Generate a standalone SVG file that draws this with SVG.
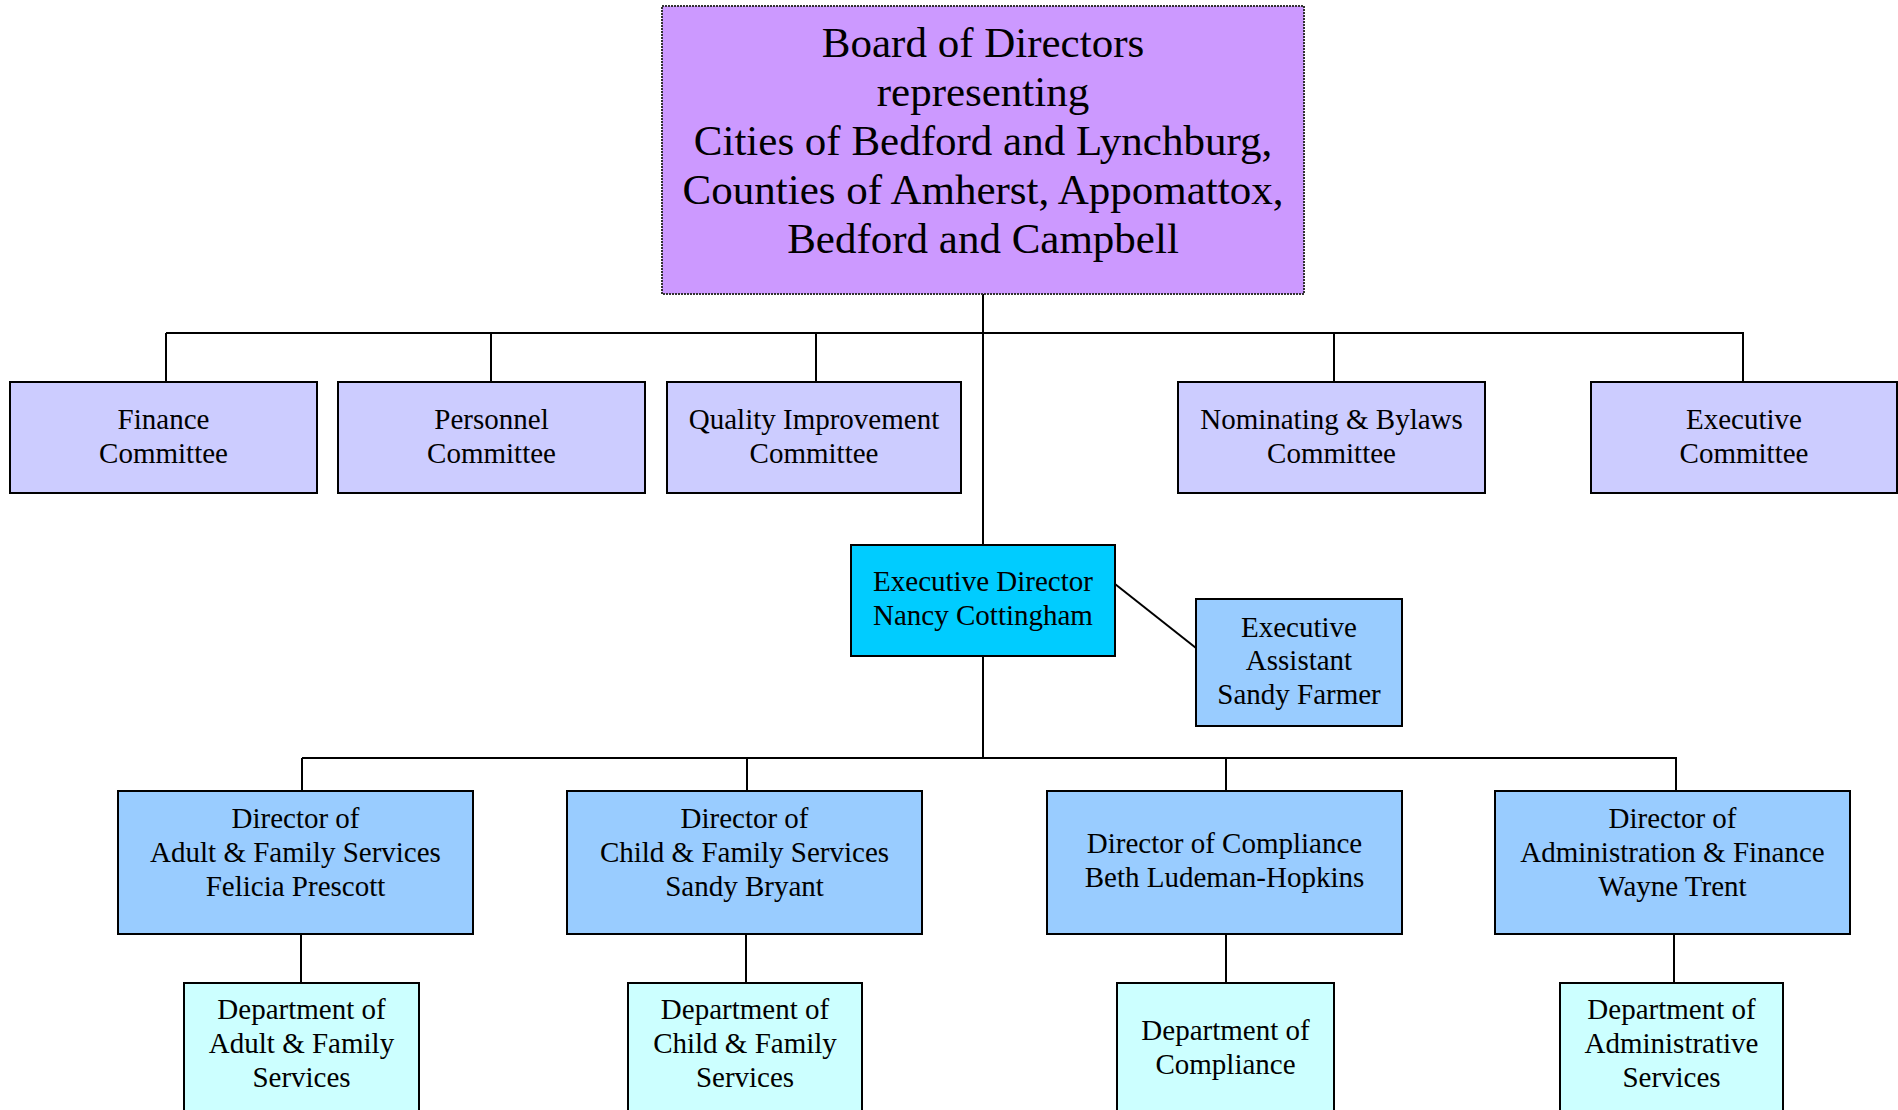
<svg xmlns="http://www.w3.org/2000/svg" width="1898" height="1110" viewBox="0 0 1898 1110">
<style>
  text { font-family: "Liberation Serif", "Times New Roman", serif; font-size: 29px; fill: #000; text-anchor: middle; }
  .board text { font-size: 43px; }
  .box { stroke: #000; stroke-width: 2; }
  .boardbox { fill: #CC99FF; stroke: #333; stroke-width: 2; stroke-dasharray: 2 1; }
  .comm { fill: #CCCCFF; }
  .exec { fill: #00CCFF; }
  .dir { fill: #99CCFF; }
  .dept { fill: #CCFFFF; }
  .conn line, .conn polyline { stroke: #000; stroke-width: 2; fill: none; }
</style>
<rect width="1898" height="1110" fill="#FFFFFF"/>
<g class="conn" id="connectors">
  <line x1="983" y1="294" x2="983" y2="545"/>
  <line x1="166" y1="333" x2="1744" y2="333"/>
  <line x1="166" y1="333" x2="166" y2="382"/>
  <line x1="491" y1="333" x2="491" y2="382"/>
  <line x1="816" y1="333" x2="816" y2="382"/>
  <line x1="1334" y1="333" x2="1334" y2="382"/>
  <line x1="1743" y1="333" x2="1743" y2="382"/>
  <line x1="1115" y1="584" x2="1196" y2="648"/>
  <line x1="983" y1="656" x2="983" y2="758"/>
  <line x1="302" y1="758" x2="1677" y2="758"/>
  <line x1="302" y1="758" x2="302" y2="791"/>
  <line x1="747" y1="758" x2="747" y2="791"/>
  <line x1="1226" y1="758" x2="1226" y2="791"/>
  <line x1="1676" y1="758" x2="1676" y2="791"/>
  <line x1="301" y1="934" x2="301" y2="983"/>
  <line x1="746" y1="934" x2="746" y2="983"/>
  <line x1="1226" y1="934" x2="1226" y2="983"/>
  <line x1="1674" y1="934" x2="1674" y2="983"/>
</g>
<g id="board" class="board">
  <rect class="boardbox" x="662" y="6" width="642" height="288"/>
  <text x="983" y="57">Board of Directors</text>
  <text x="983" y="106">representing</text>
  <text x="983" y="155">Cities of Bedford and Lynchburg,</text>
  <text x="983" y="204">Counties of Amherst, Appomattox,</text>
  <text x="983" y="253">Bedford and Campbell</text>
</g>
<g id="finance-committee">
  <rect class="box comm" x="10" y="382" width="307" height="111"/>
  <text x="163.5" y="429">Finance</text>
  <text x="163.5" y="463">Committee</text>
</g>
<g id="personnel-committee">
  <rect class="box comm" x="338" y="382" width="307" height="111"/>
  <text x="491.5" y="429">Personnel</text>
  <text x="491.5" y="463">Committee</text>
</g>
<g id="quality-committee">
  <rect class="box comm" x="667" y="382" width="294" height="111"/>
  <text x="814" y="429">Quality Improvement</text>
  <text x="814" y="463">Committee</text>
</g>
<g id="nominating-committee">
  <rect class="box comm" x="1178" y="382" width="307" height="111"/>
  <text x="1331.5" y="429">Nominating &amp; Bylaws</text>
  <text x="1331.5" y="463">Committee</text>
</g>
<g id="executive-committee">
  <rect class="box comm" x="1591" y="382" width="306" height="111"/>
  <text x="1744" y="429">Executive</text>
  <text x="1744" y="463">Committee</text>
</g>
<g id="executive-director">
  <rect class="box exec" x="851" y="545" width="264" height="111"/>
  <text x="983" y="591">Executive Director</text>
  <text x="983" y="625">Nancy Cottingham</text>
</g>
<g id="executive-assistant">
  <rect class="box dir" x="1196" y="599" width="206" height="127"/>
  <text x="1299" y="637">Executive</text>
  <text x="1299" y="670">Assistant</text>
  <text x="1299" y="704">Sandy Farmer</text>
</g>
<g id="director-adult">
  <rect class="box dir" x="118" y="791" width="355" height="143"/>
  <text x="295.5" y="828">Director of</text>
  <text x="295.5" y="862">Adult &amp; Family Services</text>
  <text x="295.5" y="896">Felicia Prescott</text>
</g>
<g id="director-child">
  <rect class="box dir" x="567" y="791" width="355" height="143"/>
  <text x="744.5" y="828">Director of</text>
  <text x="744.5" y="862">Child &amp; Family Services</text>
  <text x="744.5" y="896">Sandy Bryant</text>
</g>
<g id="director-compliance">
  <rect class="box dir" x="1047" y="791" width="355" height="143"/>
  <text x="1224.5" y="853">Director of Compliance</text>
  <text x="1224.5" y="887">Beth Ludeman-Hopkins</text>
</g>
<g id="director-admin">
  <rect class="box dir" x="1495" y="791" width="355" height="143"/>
  <text x="1672.5" y="828">Director of</text>
  <text x="1672.5" y="862">Administration &amp; Finance</text>
  <text x="1672.5" y="896">Wayne Trent</text>
</g>
<g id="dept-adult">
  <rect class="box dept" x="184" y="983" width="235" height="140"/>
  <text x="301.5" y="1019">Department of</text>
  <text x="301.5" y="1053">Adult &amp; Family</text>
  <text x="301.5" y="1087">Services</text>
</g>
<g id="dept-child">
  <rect class="box dept" x="628" y="983" width="234" height="140"/>
  <text x="745" y="1019">Department of</text>
  <text x="745" y="1053">Child &amp; Family</text>
  <text x="745" y="1087">Services</text>
</g>
<g id="dept-compliance">
  <rect class="box dept" x="1117" y="983" width="217" height="140"/>
  <text x="1225.5" y="1040">Department of</text>
  <text x="1225.5" y="1074">Compliance</text>
</g>
<g id="dept-admin">
  <rect class="box dept" x="1560" y="983" width="223" height="140"/>
  <text x="1671.5" y="1019">Department of</text>
  <text x="1671.5" y="1053">Administrative</text>
  <text x="1671.5" y="1087">Services</text>
</g>
</svg>
